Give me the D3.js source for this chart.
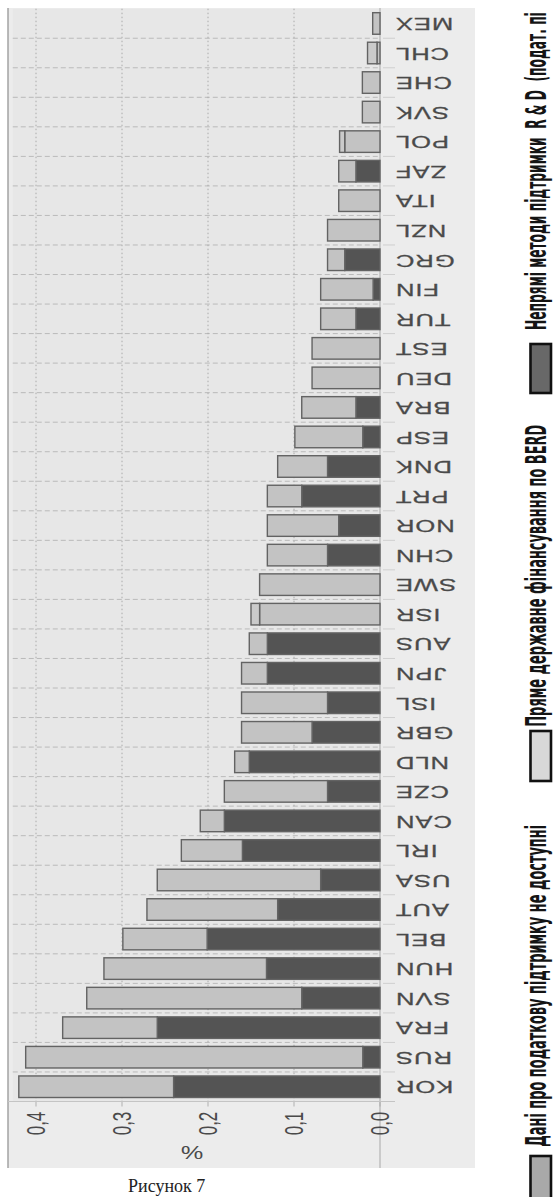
<!DOCTYPE html>
<html><head><meta charset="utf-8">
<script src="https://cdn.jsdelivr.net/npm/d3@7"></script>
<style>html,body{margin:0;padding:0;background:#fff;overflow:hidden}svg{display:block}</style>
</head><body>
<svg id="c" width="553" height="1197"></svg>
<script>
// ---- data ----
const categories = ["MEX","CHL","CHE","SVK","POL","ZAF","ITA","NZL","GRC","FIN","TUR","EST","DEU","BRA","ESP","DNK","PRT","NOR","CHN","SWE","ISR","AUS","JPN","ISL","GBR","NLD","CZE","CAN","IRL","USA","AUT","BEL","HUN","SVN","FRA","RUS","KOR"];
// indirect support (tax incentives), dark
const indirectSupport = [0,0,0,0,0,0.028,0,0,0.041,0.008,0.028,0,0,0.028,0.020,0.061,0.091,0.048,0.061,0,0,0.131,0.131,0.061,0.079,0.152,0.061,0.181,0.160,0.069,0.119,0.201,0.132,0.091,0.259,0.020,0.240];
// direct government funding of BERD, light
const directFunding = [0.0085,0.0035,0.0205,0.0205,0.041,0.020,0.048,0.061,0.020,0.061,0.041,0.079,0.079,0.063,0.079,0.058,0.040,0.083,0.070,0.140,0.140,0.021,0.030,0.100,0.082,0.017,0.120,0.028,0.071,0.190,0.152,0.098,0.189,0.250,0.110,0.392,0.180];
// extra thin segment
const otherSupport = [0,0.011,0,0,0.006,0,0,0,0,0,0,0,0,0,0,0,0,0,0,0,0.010,0,0,0,0,0,0,0,0,0,0,0,0,0,0,0,0];
const seriesKeys = ["indirect","direct","other"];
const valueTicks = [0,0.1,0.2,0.3,0.4];
const tickLabels = ["0,0","0,1","0,2","0,3","0,4"];
const axisTitle = "%";
const legendLabels = ["Непрямі методи підтримки\u00A0\u00A0R & D\u00A0\u00A0(подат. пі","Пряме державне фінансування по BERD","Дані про податкову підтримку не доступні"];
const caption = "Рисунок 7";

// ---- drawing ----
const svg = d3.select("#c");
const x = d3.scaleLinear().domain([0,0.4]).range([380,36]);
const y = d3.scaleBand().domain(categories).range([8.7,1101.5]).paddingInner(0.27).paddingOuter(0.135);
const color = d3.scaleOrdinal().domain(seriesKeys).range(["#545454","#c3c3c3","#cacaca"]);

const rows = categories.map((c,i)=>({cat:c, indirect:indirectSupport[i], direct:directFunding[i], other:otherSupport[i]}));
const stacked = d3.stack().keys(seriesKeys)(rows);

// backgrounds
svg.append("rect").attr("x",8).attr("y",8).attr("width",467).attr("height",1160).attr("fill","#ececec");
const panelLeft = x(0.427);
svg.append("rect").attr("x",panelLeft).attr("y",y.range()[0]).attr("width",x(0)-panelLeft).attr("height",y.range()[1]-y.range()[0]).attr("fill","#e7e7e7");

// grid
const step = y.step();
const boundaries = categories.slice(1).map(c => y(c) - (step - y.bandwidth())/2);
svg.append("g").selectAll("line").data(boundaries).join("line")
  .attr("x1",panelLeft).attr("x2",x(0)).attr("y1",d=>d).attr("y2",d=>d)
  .attr("stroke","#bababa").attr("stroke-width",1).attr("stroke-dasharray","5,3");
svg.append("g").selectAll("line").data(boundaries).join("line")
  .attr("x1",x(0)+3).attr("x2",x(0)+15).attr("y1",d=>d).attr("y2",d=>d)
  .attr("stroke","#cfcfcf").attr("stroke-width",1);
svg.append("g").selectAll("line").data(valueTicks.filter(v=>v>0)).join("line")
  .attr("x1",d=>x(d)).attr("x2",d=>x(d)).attr("y1",y.range()[0]).attr("y2",y.range()[1])
  .attr("stroke","#aaaaaa").attr("stroke-width",1).attr("stroke-dasharray","1.5,2.5");
svg.append("g").selectAll("line").data(valueTicks).join("line")
  .attr("x1",d=>x(d)).attr("x2",d=>x(d)).attr("y1",y.range()[1]).attr("y2",y.range()[1]+5)
  .attr("stroke","#b0b0b0").attr("stroke-width",1);

// frame lines
svg.append("line").attr("x1",8).attr("x2",8).attr("y1",8).attr("y2",1168).attr("stroke","#a3a3a3").attr("stroke-width",1.5);
svg.append("line").attr("x1",x(0)).attr("x2",x(0)).attr("y1",8).attr("y2",1168).attr("stroke","#a8a8a8").attr("stroke-width",1);
svg.append("line").attr("x1",8).attr("x2",x(0)+15).attr("y1",y.range()[1]).attr("y2",y.range()[1]).attr("stroke","#c4c4c4").attr("stroke-width",1);

// bars
svg.append("g").selectAll("g").data(stacked).join("g")
  .attr("fill",d=>color(d.key))
  .selectAll("rect").data(d=>d.filter(s=>s[1]-s[0]>0)).join("rect")
  .attr("x",d=>x(d[1])).attr("width",d=>x(d[0])-x(d[1]))
  .attr("y",d=>y(d.data.cat)).attr("height",y.bandwidth())
  .attr("stroke","#636363").attr("stroke-width",1.4);

// category labels (rotated 180°)
svg.append("g").selectAll("text").data(categories).join("text")
  .attr("transform",d=>`translate(395,${y(d)+y.bandwidth()/2}) scale(1.6,1) rotate(180)`)
  .attr("text-anchor","end").attr("dominant-baseline","central")
  .attr("font-family","'Liberation Sans',Arial,sans-serif").attr("font-size",16)
  .attr("letter-spacing","0.6px").attr("fill","#4a4a4a")
  .attr("stroke","#4a4a4a").attr("stroke-width",0.25).text(d=>d);

// value tick labels
svg.append("g").selectAll("text").data(valueTicks).join("text")
  .attr("transform",d=>`translate(${x(d)},1123.5) scale(1.5,1) rotate(-90)`)
  .attr("text-anchor","middle").attr("dominant-baseline","central")
  .attr("font-family","'Liberation Sans',Arial,sans-serif").attr("font-size",17)
  .attr("fill","#4a4a4a").text((d,i)=>tickLabels[i]);

// axis title
svg.append("text").attr("transform","translate(192,1152) scale(1.4,1) rotate(180)")
  .attr("text-anchor","middle").attr("dominant-baseline","central")
  .attr("font-family","'Liberation Sans',Arial,sans-serif").attr("font-size",18)
  .attr("fill","#4a4a4a").text(axisTitle);

// legend
const legendFill = ["#686868","#d8d8d8","#a9a9a9"];
const legendBox = [[344,49],[731,50],[1156,50]];
const legendTextStart = [330,726.7,1146.7];
const legendTextLen = [318,302,322];
const lg = svg.append("g");
legendLabels.forEach((t,i)=>{
  lg.append("rect").attr("x",530.5).attr("y",legendBox[i][0]).attr("width",20.5).attr("height",legendBox[i][1])
    .attr("fill",legendFill[i]).attr("stroke","#111").attr("stroke-width",2.6);
  const tx = lg.append("text")
    .attr("font-family","'DejaVu Sans Condensed','DejaVu Sans',sans-serif").attr("font-weight","bold")
    .attr("font-size",19).attr("fill","#141414").text(t);
  const natural = tx.node().getComputedTextLength();
  const k = legendTextLen[i] / natural;
  tx.attr("transform",`translate(545.5,${legendTextStart[i]}) scale(1.45,${k}) rotate(-90)`);
});

// caption
svg.append("text").attr("x",128).attr("y",1192).attr("font-family","'Liberation Serif','Times New Roman',serif")
  .attr("font-size",18).attr("fill","#222").text(caption);
</script>
</body></html>
